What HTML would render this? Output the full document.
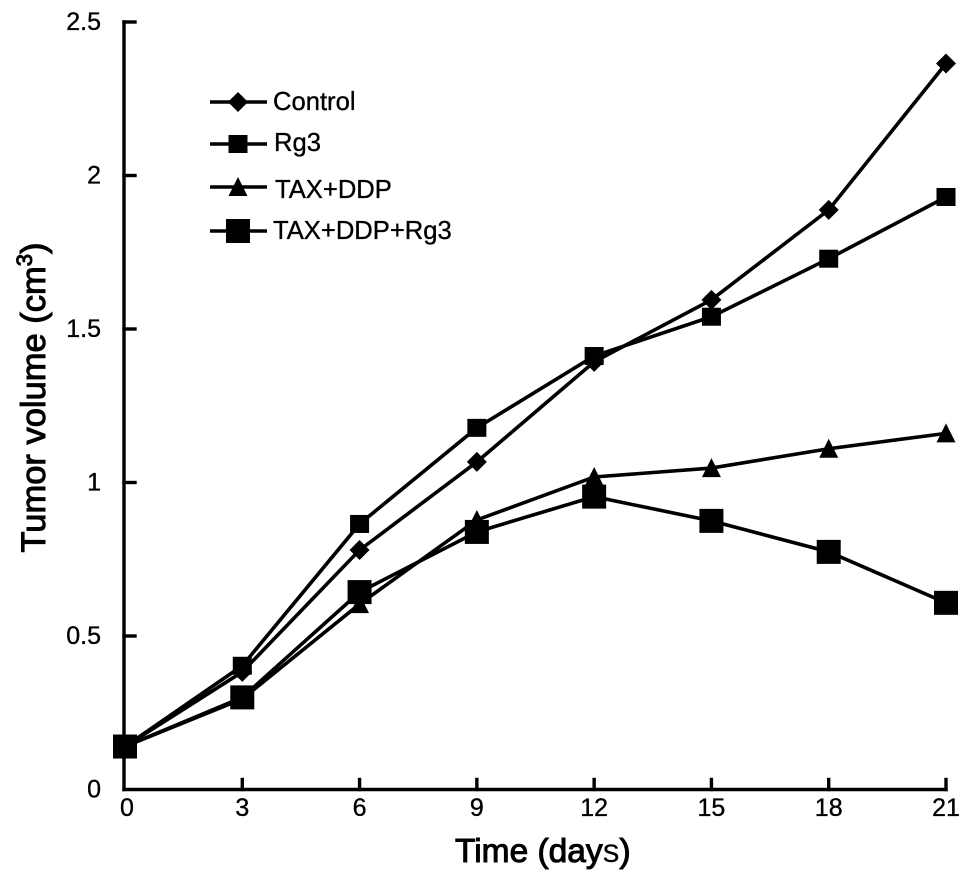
<!DOCTYPE html>
<html lang="en">
<head>
<meta charset="utf-8">
<title>Tumor volume over time</title>
<style>
html,body{margin:0;padding:0;background:#fff;width:969px;height:882px;overflow:hidden}
svg{display:block;font-family:"Liberation Sans",Arial,sans-serif}
</style>
</head>
<body>
<svg id="chart" xmlns="http://www.w3.org/2000/svg" width="969" height="882" viewBox="0 0 969 882">
  <rect width="969" height="882" fill="#fff"/>
  <g id="axes"></g>
  <g id="series"></g>
  <g id="legend"></g>
  <text x="455" y="862" font-size="33.5" fill="#000" stroke="#000" stroke-width="1">Time (day<tspan stroke="none">s</tspan>)</text>
  <text transform="translate(45 552.5) rotate(-90)" font-size="34.5" fill="#000" stroke="#000" stroke-width="1">Tumor volume (cm<tspan font-size="22" dy="-13">3</tspan><tspan dy="13">)</tspan></text>
</svg>
<script>
const days = [0, 3, 6, 9, 12, 15, 18, 21];
const xTickLabels = ["0", "3", "6", "9", "12", "15", "18", "21"];
const yTickValues = [0, 0.5, 1, 1.5, 2, 2.5];
const yTickLabels = ["0", "0.5", "1", "1.5", "2", "2.5"];
const control = [0.14, 0.383, 0.78, 1.067, 1.393, 1.595, 1.888, 2.365];
const rg3 = [0.14, 0.403, 0.865, 1.178, 1.412, 1.54, 1.729, 1.93];
const taxDdp = [0.14, 0.295, 0.604, 0.878, 1.018, 1.047, 1.11, 1.16];
const taxDdpRg3 = [0.14, 0.30, 0.643, 0.839, 0.954, 0.875, 0.774, 0.608];
const seriesNames = ["Control", "Rg3", "TAX+DDP", "TAX+DDP+Rg3"];

const NS = "http://www.w3.org/2000/svg";
const xAt = d => 125 + (d / 21) * 821;
const yAt = v => 789.5 - (v / 2.5) * 767.5;

function make(tag, attrs, parent) {
  const el = document.createElementNS(NS, tag);
  for (const k in attrs) el.setAttribute(k, attrs[k]);
  parent.appendChild(el);
  return el;
}

function drawMarker(kind, cx, cy, parent) {
  let el;
  if (kind === 0) {
    el = make("polygon", {points: [cx, cy - 10, cx + 10, cy, cx, cy + 10, cx - 10, cy].join(" "), fill: "#000"}, parent);
  } else if (kind === 1) {
    el = make("rect", {x: cx - 9.5, y: cy - 9, width: 19, height: 18, fill: "#000"}, parent);
  } else if (kind === 2) {
    el = make("polygon", {points: [cx, cy - 10, cx + 9.5, cy + 9, cx - 9.5, cy + 9].join(" "), fill: "#000"}, parent);
  } else {
    el = make("rect", {x: cx - 12, y: cy - 12, width: 24, height: 24, fill: "#000"}, parent);
  }
  
  
}

const axes = document.getElementById("axes");
const axisStyle = {stroke: "#000", "stroke-width": 3.4, fill: "none", "stroke-linecap": "square"};

const yAxisLine = make("line", Object.assign({x1: 124, x2: 124, y1: yAt(2.5), y2: yAt(0)}, axisStyle), axes);



const xAxisLine = make("line", Object.assign({x1: 124, x2: xAt(21), y1: yAt(0), y2: yAt(0)}, axisStyle), axes);



yTickValues.forEach((v, i) => {
  if (v > 0) {
    const tick = make("line", Object.assign({x1: 124, x2: 135, y1: yAt(v), y2: yAt(v)}, axisStyle), axes);
    
    
  }
  const label = make("text", {x: 101, y: yAt(v) + 8, "text-anchor": "end", "font-size": 25, fill: "#000", stroke: "#000", "stroke-width": 0.35}, axes);
  label.textContent = yTickLabels[i];
  
  
});

days.forEach((d, i) => {
  if (d > 0) {
    const tick = make("line", Object.assign({x1: xAt(d), x2: xAt(d), y1: yAt(0), y2: yAt(0) - 10}, axisStyle), axes);
    
    
  }
  const label = make("text", {x: xAt(d) + (d === 0 ? 2 : 0), y: 816, "text-anchor": "middle", "font-size": 25, fill: "#000", stroke: "#000", "stroke-width": 0.35}, axes);
  label.textContent = xTickLabels[i];
  
  
});

const allSeries = [control, rg3, taxDdp, taxDdpRg3];
const seriesRoot = document.getElementById("series");
allSeries.forEach((values, s) => {
  const g = make("g", {}, seriesRoot);
  
  
  const line = make("polyline", {
    points: values.map((v, i) => xAt(days[i]) + "," + yAt(v)).join(" "),
    fill: "none", stroke: "#000", "stroke-width": 3.6
  }, g);
  
  
  values.forEach((v, i) => drawMarker(s, xAt(days[i]), yAt(v), g));
});

const legendRoot = document.getElementById("legend");
const legendRowY = [102, 144, 187, 231];
const legendTextX = [273, 274, 275, 273];
const legendBaseline = [110, 151, 198, 239];
seriesNames.forEach((name, s) => {
  const g = make("g", {}, legendRoot);
  
  
  const line = make("line", {x1: 210, x2: 267, y1: legendRowY[s], y2: legendRowY[s], stroke: "#000", "stroke-width": 3.4}, g);
  
  
  drawMarker(s, 238, legendRowY[s], g);
  const label = make("text", {x: legendTextX[s], y: legendBaseline[s], "font-size": 25.6, fill: "#000", stroke: "#000", "stroke-width": 0.35}, g);
  label.textContent = name;
  
  
});
</script>
</body>
</html>
